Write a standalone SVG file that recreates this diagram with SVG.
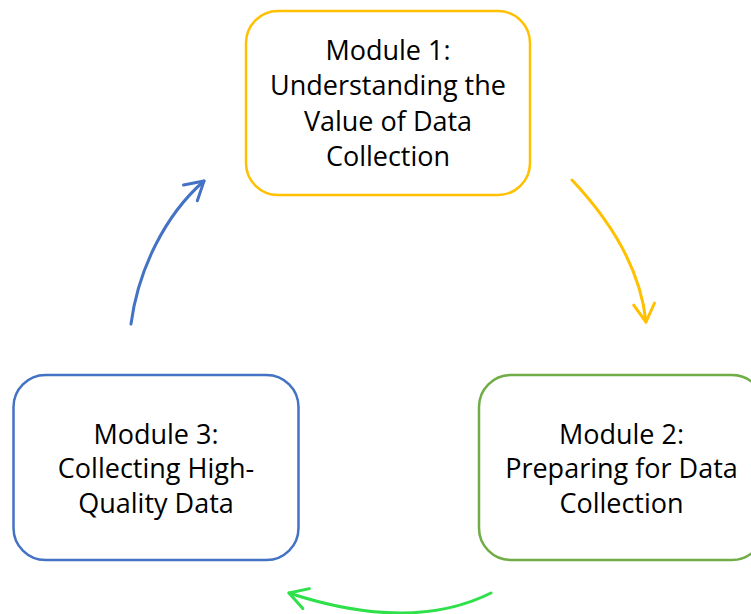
<svg xmlns="http://www.w3.org/2000/svg" width="751" height="614" viewBox="0 0 751 614">
<style>
.box{fill:#FFFFFF;stroke-width:2.5}
.t{font-family:"Open Sans","Liberation Sans",sans-serif;font-size:27px;fill:#000000;text-anchor:middle}
.c{fill:none;stroke-width:3;stroke-linecap:round}
</style>
<defs>
<marker id="ay" markerUnits="userSpaceOnUse" orient="auto" markerWidth="30" markerHeight="30" refX="0" refY="0" viewBox="-22 -15 26 30" overflow="visible"><path d="M-18,-10.5 L0,0 L-18,10.5" fill="none" stroke="#FFC000" stroke-width="3" stroke-linecap="round" stroke-linejoin="round"/></marker>
<marker id="ag" markerUnits="userSpaceOnUse" orient="auto" markerWidth="30" markerHeight="30" refX="0" refY="0" viewBox="-22 -15 26 30" overflow="visible"><path d="M-18,-10.5 L0,0 L-18,10.5" fill="none" stroke="#2EE04A" stroke-width="3" stroke-linecap="round" stroke-linejoin="round"/></marker>
<marker id="ab" markerUnits="userSpaceOnUse" orient="auto" markerWidth="30" markerHeight="30" refX="0" refY="0" viewBox="-22 -15 26 30" overflow="visible"><path d="M-18,-10.5 L0,0 L-18,10.5" fill="none" stroke="#4472C4" stroke-width="3" stroke-linecap="round" stroke-linejoin="round"/></marker>
</defs>
<rect width="751" height="614" fill="#FFFFFF"/>
<g id="module1">
<rect class="box" x="246" y="11" width="284" height="184" rx="32" stroke="#FFC000"/>
<text class="t" x="388" y="59.5">Module 1:</text>
<text class="t" x="388" y="95">Understanding the</text>
<text class="t" x="388" y="130.5">Value of Data</text>
<text class="t" x="388" y="166">Collection</text>
</g>
<g id="module2">
<rect class="box" x="479" y="375" width="285" height="185" rx="32" stroke="#70AD47"/>
<text class="t" x="621.5" y="443.5">Module 2:</text>
<text class="t" x="621.5" y="478">Preparing for Data</text>
<text class="t" x="621.5" y="512.5">Collection</text>
</g>
<g id="module3">
<rect class="box" x="13.5" y="375" width="285" height="185" rx="32" stroke="#4472C4"/>
<text class="t" x="156" y="443.5">Module 3:</text>
<text class="t" x="156" y="478">Collecting High-</text>
<text class="t" x="156" y="512.5">Quality Data</text>
</g>
<g id="connectors">
<path class="c" d="M572,180 C605,215 640,265 646,322" stroke="#FFC000" marker-end="url(#ay)"/>
<path class="c" d="M491,593 Q410.5,633 289,593" stroke="#2EE04A" marker-end="url(#ag)"/>
<path class="c" d="M131,324 C138,270 165,215 204,181" stroke="#4472C4" marker-end="url(#ab)"/>
</g>
</svg>
